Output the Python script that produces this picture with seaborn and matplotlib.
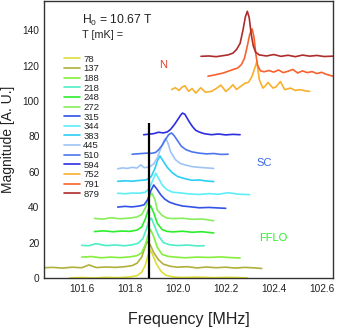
import numpy as np
import pandas as pd
import matplotlib
matplotlib.use("Agg")
import matplotlib.pyplot as plt
import seaborn as sns

# temperaturer i legenden
TEMPS = ["78", "137", "188", "218", "248", "272", "315", "344",
         "383", "445", "510", "594", "752", "791", "879"]
COLORS = ["#dede3a", "#b0b03c", "#86ee3c", "#4eeec6", "#2cee2c", "#88ee5c",
          "#3252e8", "#5eeef6", "#2ccef6", "#9ec4f6", "#4c76ee", "#2c2ee0",
          "#f8b02e", "#f8622e", "#ae2c2c"]

# spektre (frekvens i MHz, magnitude i A. U.)
F_78 = [101.55, 101.60, 101.65, 101.70, 101.75, 101.80, 101.83, 101.85, 101.865, 101.875,
        101.885, 101.895, 101.91, 101.93, 101.95, 101.98, 102.02, 102.08, 102.15, 102.22, 102.29]
M_78 = [0.3, 0.5, 0.2, 0.6, 0.4, 0.8, 1.5, 3.5, 7.5, 12.5,
        16.0, 13.5, 8.5, 4.0, 1.8, 0.8, 0.5, 0.7, 0.4, 0.6, 0.3]

F_137 = [101.443, 101.48, 101.52, 101.56, 101.60, 101.63, 101.66, 101.70, 101.74, 101.78,
         101.81, 101.83, 101.85, 101.862, 101.872, 101.885, 101.90, 101.92, 101.94, 101.97,
         102.00, 102.04, 102.08, 102.12, 102.16, 102.20, 102.24, 102.28, 102.32, 102.35]
M_137 = [6.0, 6.2, 5.8, 6.3, 6.0, 7.6, 6.1, 6.4, 6.2, 6.6,
         7.2, 8.5, 12.0, 17.0, 20.7, 19.0, 14.5, 10.5, 8.0, 6.8,
         6.3, 6.6, 5.9, 6.4, 6.0, 6.3, 5.8, 6.2, 5.9, 5.6]

F_188 = [101.60, 101.64, 101.68, 101.72, 101.76, 101.80, 101.83, 101.85, 101.865, 101.877, 101.887,
         101.90, 101.915, 101.935, 101.96, 101.99, 102.03, 102.08, 102.13, 102.18, 102.22, 102.26]
M_188 = [12.0, 12.3, 11.6, 12.0, 11.7, 12.1, 12.8, 14.5, 19.0, 24.5, 27.5,
         23.5, 17.5, 13.5, 12.4, 12.0, 11.6, 12.0, 11.8, 12.1, 11.7, 11.5]

F_218 = [101.60, 101.63, 101.66, 101.70, 101.74, 101.78, 101.81, 101.835, 101.855, 101.87,
         101.88, 101.89, 101.905, 101.92, 101.94, 101.965, 102.00, 102.04, 102.08, 102.11]
M_218 = [18.6, 18.4, 19.6, 18.5, 18.8, 18.4, 18.9, 19.8, 22.5, 28.0,
         32.5, 34.0, 29.0, 24.0, 20.2, 19.0, 18.5, 18.8, 18.3, 18.4]

F_248 = [101.653, 101.69, 101.73, 101.77, 101.80, 101.83, 101.85, 101.865, 101.877, 101.887,
         101.90, 101.915, 101.935, 101.955, 101.98, 102.02, 102.06, 102.10, 102.15]
M_248 = [26.4, 26.8, 26.3, 26.7, 26.5, 27.2, 29.0, 33.5, 38.5, 41.0,
         37.0, 31.0, 27.5, 26.5, 26.2, 26.6, 26.0, 26.3, 25.6]

F_272 = [101.653, 101.69, 101.72, 101.76, 101.80, 101.83, 101.85, 101.868, 101.88, 101.892,
         101.905, 101.915, 101.935, 101.955, 101.98, 102.02, 102.06, 102.10, 102.15]
M_272 = [33.8, 33.4, 34.2, 33.6, 34.0, 34.6, 36.0, 40.5, 45.5, 48.0,
         44.5, 38.5, 35.5, 34.0, 33.7, 33.9, 33.3, 33.5, 32.5]

F_315 = [101.75, 101.78, 101.81, 101.84, 101.86, 101.875, 101.888, 101.90, 101.915, 101.93,
         101.945, 101.965, 101.99, 102.02, 102.05, 102.09, 102.13, 102.17, 102.20]
M_315 = [40.2, 40.6, 40.3, 40.8, 41.5, 44.5, 49.5, 52.7, 50.0, 47.0,
         44.8, 43.0, 41.8, 40.8, 40.4, 39.8, 40.0, 39.7, 39.5]

F_344 = [101.75, 101.78, 101.81, 101.84, 101.865, 101.88, 101.894, 101.908, 101.922, 101.936,
         101.955, 101.978, 102.01, 102.05, 102.09, 102.13, 102.17, 102.21, 102.25, 102.30]
M_344 = [48.0, 47.7, 48.1, 48.0, 48.6, 50.5, 54.6, 59.3, 56.0, 52.5,
         50.0, 48.6, 48.2, 47.6, 47.3, 47.8, 47.4, 48.3, 47.5, 47.2]

F_383 = [101.75, 101.78, 101.81, 101.84, 101.87, 101.89, 101.905, 101.916, 101.926, 101.94,
         101.957, 101.978, 102.00, 102.03, 102.06, 102.09, 102.12, 102.15]
M_383 = [54.7, 55.0, 54.8, 55.2, 55.6, 57.5, 62.0, 66.5, 69.0, 66.0,
         62.5, 59.5, 57.4, 56.2, 55.3, 55.5, 54.9, 54.6]

F_445 = [101.75, 101.77, 101.79, 101.81, 101.83, 101.846, 101.86, 101.88, 101.90, 101.915, 101.93,
         101.942, 101.95, 101.96, 101.97, 101.99, 102.01, 102.035, 102.06, 102.09, 102.12, 102.15]
M_445 = [61.8, 62.3, 62.0, 62.6, 62.2, 64.0, 62.4, 62.8, 64.5, 68.0, 73.5,
         77.5, 79.0, 76.0, 71.5, 67.0, 64.8, 63.8, 63.0, 62.6, 62.3, 62.0]

F_510 = [101.81, 101.84, 101.87, 101.89, 101.908, 101.92, 101.935, 101.95, 101.962, 101.974,
         101.985, 102.00, 102.015, 102.035, 102.06, 102.09, 102.12, 102.15, 102.18, 102.21]
M_510 = [70.0, 70.3, 70.6, 70.5, 71.0, 72.5, 75.0, 78.5, 81.0, 82.0,
         80.5, 77.5, 74.5, 72.5, 71.3, 70.6, 70.2, 70.4, 69.9, 70.0]

F_594 = [101.858, 101.88, 101.90, 101.92, 101.94, 101.957, 101.97, 101.985, 102.00, 102.012, 102.02,
         102.03, 102.047, 102.062, 102.075, 102.09, 102.11, 102.14, 102.17, 102.20, 102.23, 102.26]
M_594 = [81.0, 81.3, 81.6, 82.4, 82.0, 82.6, 84.0, 86.5, 89.5, 92.0, 93.2,
         92.5, 88.5, 85.5, 83.5, 82.5, 81.6, 81.0, 81.4, 80.9, 81.2, 81.0]

F_752 = [101.975, 101.99, 102.005, 102.02, 102.03, 102.045, 102.06, 102.075, 102.096, 102.115,
         102.14, 102.16, 102.18, 102.20, 102.215, 102.23, 102.245, 102.265, 102.28, 102.295,
         102.31, 102.322, 102.33, 102.34, 102.355, 102.365, 102.376, 102.397, 102.41, 102.428,
         102.446, 102.47, 102.49, 102.51, 102.53, 102.55]
M_752 = [106.5, 107.5, 106.0, 108.0, 108.6, 105.5, 107.0, 104.5, 107.5, 105.0,
         105.4, 107.0, 109.0, 105.4, 107.0, 109.2, 106.5, 108.5, 110.0, 110.5,
         114.0, 119.0, 122.4, 112.0, 107.3, 108.5, 110.5, 107.3, 108.0, 111.0,
         106.4, 107.3, 106.0, 106.4, 105.8, 105.4]

F_791 = [102.126, 102.15, 102.17, 102.19, 102.21, 102.23, 102.25, 102.265, 102.278, 102.29,
         102.30, 102.31, 102.318, 102.325, 102.333, 102.345, 102.36, 102.38, 102.40, 102.42,
         102.44, 102.46, 102.48, 102.50, 102.52, 102.54, 102.56, 102.58, 102.60, 102.62, 102.647]
M_791 = [114.0, 114.6, 115.2, 115.8, 116.8, 117.7, 118.6, 120.5, 124.0, 131.0,
         137.5, 140.7, 136.0, 127.0, 120.0, 117.0, 116.5, 117.2, 116.3, 117.5,
         116.0, 116.8, 117.8, 115.8, 117.0, 116.0, 116.6, 115.5, 116.2, 115.0, 114.0]

F_879 = [102.097, 102.13, 102.16, 102.19, 102.21, 102.23, 102.245, 102.26, 102.272, 102.282,
         102.29, 102.298, 102.306, 102.315, 102.325, 102.34, 102.37, 102.40, 102.43, 102.46,
         102.49, 102.52, 102.55, 102.58, 102.61, 102.647]
M_879 = [125.2, 125.4, 125.0, 125.6, 126.0, 127.0, 129.0, 132.5, 140.0, 147.5,
         150.6, 147.0, 138.0, 131.0, 127.5, 126.0, 125.4, 126.2, 125.2, 125.8,
         125.0, 125.9, 125.3, 125.7, 125.1, 125.3]

# lodret markering ved resonansen
MARKER_FREQ = 101.88
MARKER_TOP = 87.6

X_TICKS = [101.6, 101.8, 102.0, 102.2, 102.4, 102.6]
Y_TICKS = [0, 20, 40, 60, 80, 100, 120, 140]

#Plot-konstanter
FIG_W = 3.37
FIG_H = 3.31
DPI = 100
LINE_WIDTH = 1.2
TEXT_COLOR = "#222222"


def build_frame() -> pd.DataFrame:
    spectra = {
        "78": (F_78, M_78), "137": (F_137, M_137), "188": (F_188, M_188),
        "218": (F_218, M_218), "248": (F_248, M_248), "272": (F_272, M_272),
        "315": (F_315, M_315), "344": (F_344, M_344), "383": (F_383, M_383),
        "445": (F_445, M_445), "510": (F_510, M_510), "594": (F_594, M_594),
        "752": (F_752, M_752), "791": (F_791, M_791), "879": (F_879, M_879),
    }
    frames = []
    for temp, (freq, mag) in spectra.items():
        frames.append(pd.DataFrame({"freq": freq, "mag": mag, "T": temp}))
    return pd.concat(frames, ignore_index=True)


def plot_spectra(df: pd.DataFrame) -> None:
    fig, ax = plt.subplots(figsize=(FIG_W, FIG_H), dpi=DPI)
    fig.subplots_adjust(left=0.1315, right=0.988, bottom=0.159, top=0.997)

    sns.lineplot(data=df, x="freq", y="mag", hue="T", hue_order=TEMPS,
                 palette=dict(zip(TEMPS, COLORS)), sort=False, estimator=None,
                 linewidth=LINE_WIDTH, ax=ax)

    ax.vlines(MARKER_FREQ, 0, MARKER_TOP, color="black", linewidth=1.6, zorder=5)

    ax.set_xlim(101.444, 102.647)
    ax.set_ylim(0, 156.4)
    ax.set_xticks(X_TICKS)
    ax.set_xticklabels([f"{t:.1f}" for t in X_TICKS])
    ax.set_yticks(Y_TICKS)

    for side in ["left", "right", "top", "bottom"]:
        ax.spines[side].set_visible(True)
        ax.spines[side].set_color("#333333")
        ax.spines[side].set_linewidth(1.0)

    ax.tick_params(axis="both", direction="in", length=5, width=0.9,
                   color="#777777", labelsize=7.3, labelcolor=TEXT_COLOR, pad=3.5)
    ax.tick_params(axis="x", pad=4)

    ax.set_xlabel("Frequency [MHz]", fontsize=11.5, color=TEXT_COLOR)
    ax.set_ylabel("Magnitude [A. U.]", fontsize=10, color=TEXT_COLOR)
    ax.xaxis.set_label_coords(0.5, -0.12)
    ax.yaxis.set_label_coords(-0.10, 0.5)

    # tekster i plottet
    ax.text(0.1306, 0.9315, "H$_0$ = 10.67 T", transform=ax.transAxes,
            fontsize=8.7, color=TEXT_COLOR, va="center", ha="left")
    ax.text(0.1306, 0.8788, "T [mK] =", transform=ax.transAxes,
            fontsize=7.8, color=TEXT_COLOR, va="center", ha="left")
    ax.text(0.411, 0.769, "N", transform=ax.transAxes, fontsize=8,
            color="#e8402e", va="center", ha="center")
    ax.text(0.761, 0.416, "SC", transform=ax.transAxes, fontsize=8,
            color="#3a68ea", va="center", ha="center")
    ax.text(0.792, 0.1453, "FFLO", transform=ax.transAxes, fontsize=8,
            color="#2aee2a", va="center", ha="center")

    handles, labels = ax.get_legend_handles_labels()
    ax.legend(handles, labels, loc="upper left", bbox_to_anchor=(0.068, 0.806),
              frameon=False, fontsize=6.8, labelspacing=0.066, handlelength=1.7,
              handletextpad=0.35, borderpad=0, borderaxespad=0)
    for txt in ax.get_legend().get_texts():
        txt.set_color(TEXT_COLOR)

    fig.savefig("out.png", dpi=DPI)
    plt.close(fig)


def main():
    sns.set_style("white")
    plt.rcParams["font.family"] = ["Liberation Sans", "DejaVu Sans"]
    plt.rcParams["mathtext.default"] = "regular"

    df = build_frame()
    plot_spectra(df)


if __name__ == "__main__":
    main()
